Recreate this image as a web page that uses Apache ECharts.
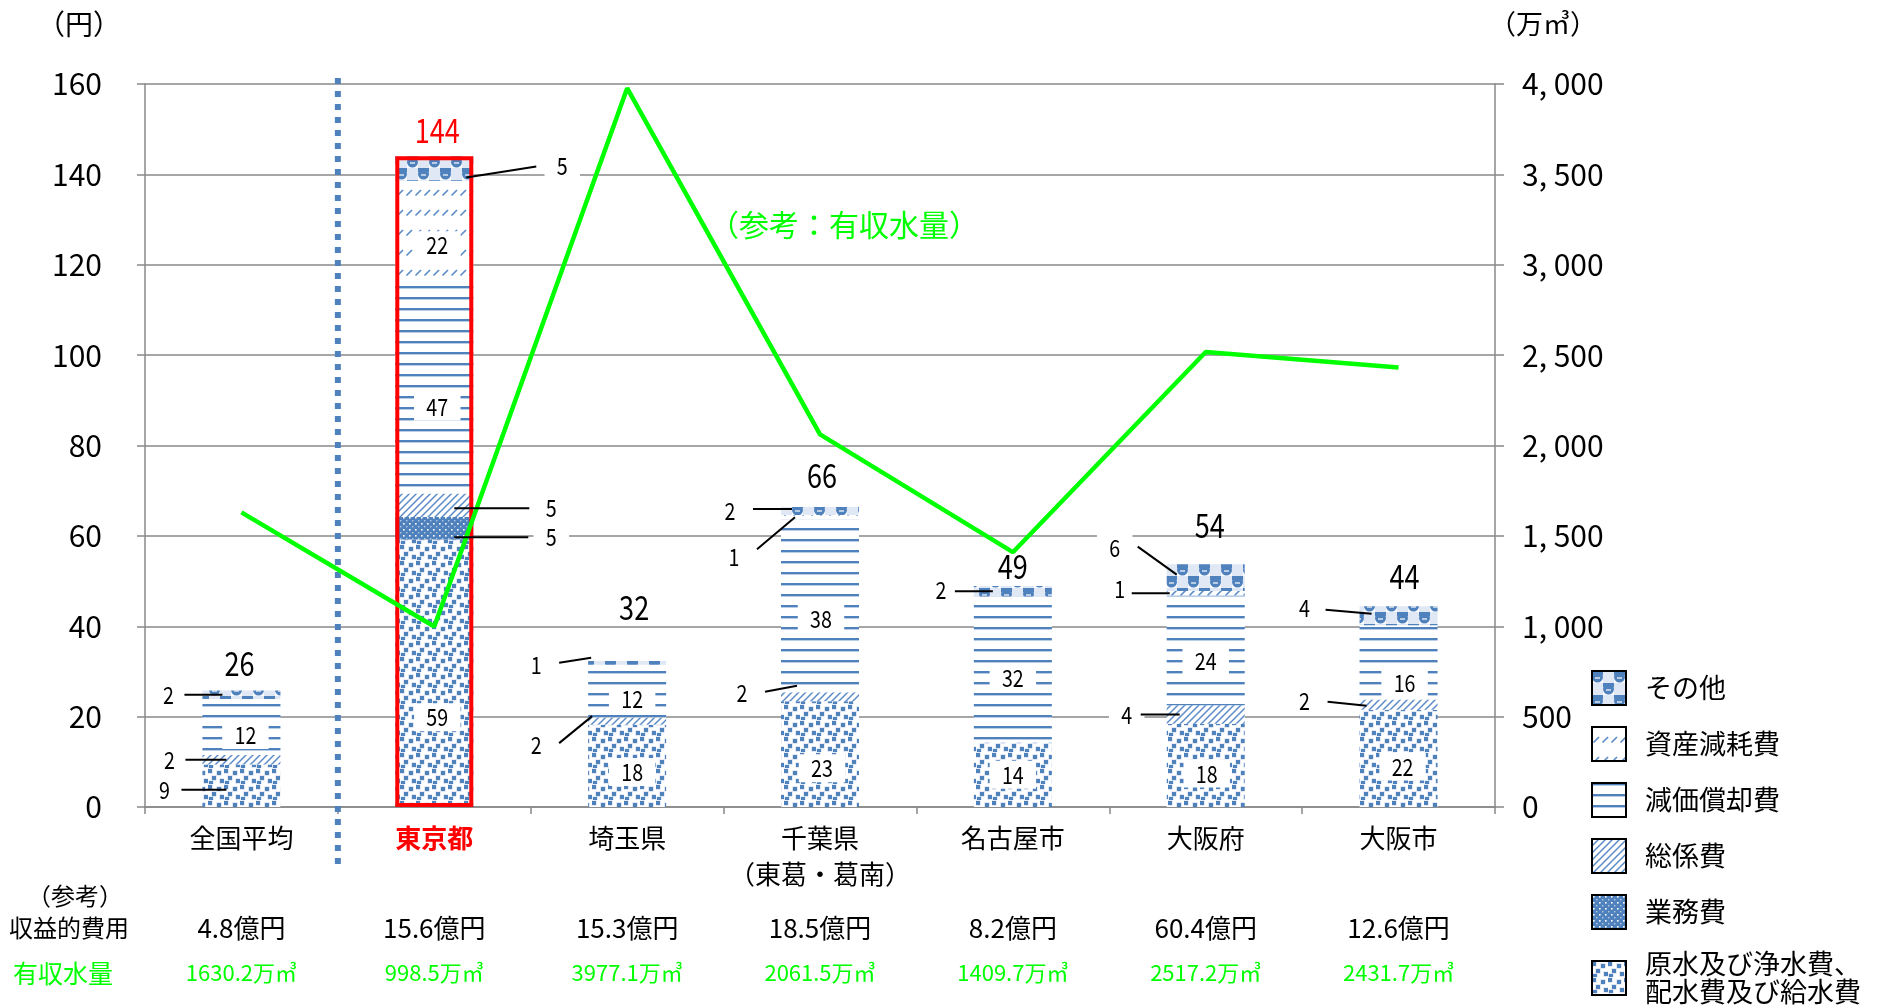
<!DOCTYPE html>
<html>
<head>
<meta charset="utf-8">
<script src="https://cdn.jsdelivr.net/npm/echarts@6/dist/echarts.min.js"></script>
<style>
  html, body { margin: 0; padding: 0; background: #fff; }
  #chart { width: 1883px; height: 1007px; }
</style>
</head>
<body>
<div id="chart"></div>
<script>
// ---- data ----
const categories = ['全国平均', '東京都', '埼玉県', '千葉県\n（東葛・葛南）', '名古屋市', '大阪府', '大阪市'];
const highlightIndex = 1;

// cost per m3 (円), stacked bottom to top
const rawWater     = [9.4, 59.2, 18.2, 23.4, 14.3, 18.4, 21.5]; // 原水及び浄水費、配水費及び給水費
const operations   = [0,   5.0,  0,    0,    0,    0,    0];    // 業務費
const generalAdmin = [2.1, 5.2,  1.6,  2.0,  0,    4.1,  2.3];  // 総係費
const depreciation = [12.4, 47.3, 11.7, 38.2, 32.3, 24.3, 16.4]; // 減価償却費
const assetLoss    = [0,   21.9, 0,    1.0,  0,    1.0,  0];    // 資産減耗費
const other        = [1.9, 5.4,  0.8,  1.8,  2.3,  5.9,  4.2];  // その他

const costNames = ['原水及び浄水費、\n配水費及び給水費', '業務費', '総係費', '減価償却費', '資産減耗費', 'その他'];

// reference rows
const revenueCost = [4.8, 15.6, 15.3, 18.5, 8.2, 60.4, 12.6];                 // 億円
const billedVolume = [1630.2, 998.5, 3977.1, 2061.5, 1409.7, 2517.2, 2431.7]; // 万㎥

const leftTicks = { min: 0, max: 160, interval: 20 };
const rightTicks = { min: 0, max: 4000, interval: 500 };

// ---- styling ----
const BLUE = '#4f81bd';
const GREEN = '#00ff00';
const AXIS_GREY = '#888888';
const JP_FONT = "'Noto Sans CJK JP','Noto Sans',sans-serif";
const NARROW = 0.82; // horizontal squeeze for the value labels

function tile(w, h, paint) {
  const cv = document.createElement('canvas');
  cv.width = w; cv.height = h;
  const g = cv.getContext('2d');
  g.fillStyle = '#ffffff';
  g.fillRect(0, 0, w, h);
  paint(g, w, h);
  return { image: cv, repeat: 'repeat' };
}

const patterns = [
  // confetti squares
  tile(16, 16, g => {
    g.fillStyle = '#c3d4ea';
    [[0, 1], [9, 3], [4, 8], [12, 11], [1, 13]].forEach(([x, y]) => g.fillRect(x - 0.5, y - 0.5, 5, 5));
    g.fillStyle = BLUE;
    [[0, 1], [9, 3], [4, 8], [12, 11], [1, 13]].forEach(([x, y]) => g.fillRect(x, y, 4, 4));
  }),
  // dotted grid on solid blue
  tile(6, 6, g => {
    g.fillStyle = '#4f81bd';
    g.fillRect(0, 0, 6, 6);
    g.fillStyle = '#ffffff';
    g.fillRect(1, 1, 1.6, 1.6);
    g.fillStyle = '#b4cae6';
    g.fillRect(4, 4, 1.4, 1.4);
  }),
  // wide upward diagonal
  tile(7, 7, g => {
    g.strokeStyle = '#5d8bc8';
    g.lineWidth = 1.5;
    g.beginPath();
    g.moveTo(-1, 8); g.lineTo(8, -1);
    g.moveTo(-1, 1); g.lineTo(1, -1);
    g.moveTo(6, 8); g.lineTo(8, 6);
    g.stroke();
  }),
  // horizontal lines
  tile(4, 11, g => {
    g.fillStyle = BLUE;
    g.fillRect(0, 0, 4, 2);
    g.fillStyle = '#b9cde8';
    g.fillRect(0, 2, 4, 1);
  }),
  // dashed upward diagonal
  tile(9, 20, g => {
    g.strokeStyle = '#5f8dc8';
    g.lineWidth = 1.7;
    g.beginPath();
    g.moveTo(1.5, 15.5); g.lineTo(7, 10);
    g.stroke();
  }),
  // checker with spheres
  tile(22, 24, g => {
    g.fillStyle = '#dfe8f4';
    g.fillRect(11, 0, 11, 12);
    g.fillRect(0, 12, 11, 12);
    g.fillStyle = BLUE;
    [[5.5, 6], [16.5, 18]].forEach(([x, y]) => {
      g.beginPath(); g.arc(x, y, 5.5, 0, Math.PI * 2); g.fill();
      g.fillRect(x - 5.5, y - 6, 11, 4);
    });
    g.strokeStyle = '#ffffff';
    g.lineWidth = 1.2;
    [[5.5, 6], [16.5, 18]].forEach(([x, y]) => {
      g.beginPath(); g.moveTo(x - 2.5, y + 1); g.lineTo(x + 2.5, y + 1); g.stroke();
    });
  })
];

// ---- derived ----
const stacks = [rawWater, operations, generalAdmin, depreciation, assetLoss, other];
const stackTotals = categories.map((_, i) => +stacks.reduce((s, arr) => s + arr[i], 0).toFixed(1));

// label placement (pixel offsets from the segment centre)
// d: inside label offset; a: leader start on bar, b: leader end, t: text centre
const segLabelLayout = {
  '0-0': { a: [-15, 4], b: [-60, 4], t: [-77, 4] },
  '2-0': { a: [-15, 0], b: [-56, 0], t: [-72, 0] },
  '3-0': { d: [4, 8] },
  '5-0': { a: [-19, 0], b: [-57, 0], t: [-73, 0] },
  '0-1': { d: [3, 44] },
  '1-1': { a: [20, 9], b: [94, 9], t: [117, 9] },
  '2-1': { a: [20, 3], b: [95, 3], t: [117, 3] },
  '3-1': { d: [3, 20] },
  '4-1': { d: [3, 15] },
  '5-1': { a: [32, 9], b: [102, -2], t: [128, -3] },
  '0-2': { d: [5, 6] },
  '2-2': { a: [-35, -5], b: [-68, 22], t: [-91, 24] },
  '3-2': { d: [5, 8] },
  '5-2': { a: [-36, -5], b: [-68, 0], t: [-91, 2] },
  '0-3': { d: [2, 14] },
  '2-3': { a: [-23, -11], b: [-55, -5], t: [-78, -4] },
  '3-3': { d: [1, 13] },
  '4-3': { a: [-25, 0], b: [-63, 32], t: [-86, 40] },
  '5-3': { a: [-28, -2], b: [-67, -2], t: [-90, 0] },
  '0-4': { d: [0, 0] },
  '3-4': { d: [0, 8] },
  '5-4': { a: [-20, 0], b: [-58, 0], t: [-72, -1] },
  '0-5': { d: [1, 8] },
  '2-5': { a: [-26, 0], b: [-65, 0], t: [-79, 0] },
  '3-5': { d: [0, 10] },
  '4-5': { a: [-36, 0], b: [-74, 0], t: [-86, -4] },
  '5-5': { a: [-29, -3], b: [-68, -31], t: [-91, -30] },
  '0-6': { d: [4, 8] },
  '2-6': { a: [-32, 1], b: [-71, -3], t: [-94, -4] },
  '3-6': { d: [6, 20] },
  '5-6': { a: [-27, -2], b: [-73, -6], t: [-94, -8] }
};
// total label offsets: [dx, lift above bar top]
const totalLayout = [[-2, 27], [3, 26], [7, 54], [2, 32], [0, 20], [4, 39], [6, 30]];

const labelItems = [];
categories.forEach((_, c) => {
  let base = 0;
  stacks.forEach((arr, s) => {
    const v = arr[c];
    const layout = segLabelLayout[s + '-' + c];
    if (v > 0 && layout) {
      labelItems.push({ cat: c, center: base + v / 2, text: String(Math.round(v)), layout, kind: 'seg' });
    }
    base += v;
  });
  labelItems.push({
    cat: c, center: stackTotals[c], text: String(Math.round(stackTotals[c])),
    layout: { d: [totalLayout[c][0], -totalLayout[c][1]] }, kind: 'total'
  });
});

function valueText(x, y, text, size, color, boxed) {
  const style = {
    text, fill: color, fontSize: size, fontFamily: JP_FONT,
    align: 'center', verticalAlign: 'middle'
  };
  if (boxed) {
    style.backgroundColor = '#ffffff';
    style.padding = [2, 15];
  }
  return { type: 'text', x, y, scaleX: NARROW, style };
}

function renderLabel(params, api) {
  const it = labelItems[params.dataIndex];
  const p = api.coord([api.value(0), api.value(1)]);
  const L = it.layout;
  if (it.kind === 'total') {
    return valueText(p[0] + L.d[0], p[1] + L.d[1], it.text, 33,
      it.cat === highlightIndex ? '#ff0000' : '#000000', false);
  }
  if (L.d) {
    return valueText(p[0] + L.d[0], p[1] + L.d[1], it.text, 24, '#000000', true);
  }
  return {
    type: 'group',
    children: [
      valueText(p[0] + L.t[0], p[1] + L.t[1], it.text, 24, '#000000', true),
      {
        type: 'line',
        shape: { x1: p[0] + L.a[0], y1: p[1] + L.a[1], x2: p[0] + L.b[0], y2: p[1] + L.b[1] },
        style: { stroke: '#000000', lineWidth: 2 }
      }
    ]
  };
}

function renderSeparator(params, api) {
  const a = api.coord([0, leftTicks.max]);
  const b = api.coord([1, 0]);
  const x = (a[0] + b[0]) / 2;
  return {
    type: 'line',
    shape: { x1: x, y1: a[1] - 6, x2: x, y2: b[1] + 60 },
    style: { stroke: BLUE, lineWidth: 6, lineDash: [6, 7] }
  };
}

const fmtThousands = v => v >= 1000 ? Math.floor(v / 1000) + ', ' + String(v % 1000).padStart(3, '0') : String(v);

const chart = echarts.init(document.getElementById('chart'), null, { renderer: 'canvas' });

const barSeries = stacks.map((arr, s) => ({
  name: costNames[s],
  type: 'bar',
  stack: 'cost',
  data: arr,
  barWidth: 78,
  barGap: '-100%',
  itemStyle: { color: patterns[s] },
  emphasis: { disabled: true },
  z: 2
}));

chart.setOption({
  animation: false,
  backgroundColor: '#ffffff',
  textStyle: { fontFamily: JP_FONT },
  grid: { left: 145, right: 388, top: 84, bottom: 200, containLabel: false },
  legend: {
    orient: 'vertical',
    left: 1591,
    top: 670,
    width: 290,
    height: 420,
    padding: 0,
    icon: 'rect',
    itemWidth: 34,
    itemHeight: 34,
    itemGap: 20,
    selectedMode: false,
    data: costNames.slice().reverse(),
    itemStyle: { borderColor: '#000000', borderWidth: 2 },
    textStyle: { fontSize: 27, lineHeight: 28, color: '#000000', fontFamily: JP_FONT, padding: [0, 0, 0, 14] }
  },
  xAxis: [
    {
      type: 'category',
      data: categories.map((c, i) => i === highlightIndex
        ? { value: c, textStyle: { color: '#ff0000', fontWeight: 'bold' } } : c),
      axisLine: { lineStyle: { color: AXIS_GREY, width: 1.5 } },
      axisTick: { show: true, length: 7, lineStyle: { color: AXIS_GREY, width: 1.5 } },
      axisLabel: { fontSize: 26, lineHeight: 36, color: '#000000', margin: 13, fontFamily: JP_FONT, interval: 0 }
    },
    {
      type: 'category',
      data: categories,
      position: 'bottom',
      axisLine: { show: false }, axisTick: { show: false }, splitLine: { show: false },
      axisLabel: {
        interval: 0, margin: 106, fontSize: 26, lineHeight: 30, color: '#000000', fontFamily: JP_FONT,
        formatter: (v, i) => revenueCost[i] + '億円'
      }
    },
    {
      type: 'category',
      data: categories,
      position: 'bottom',
      axisLine: { show: false }, axisTick: { show: false }, splitLine: { show: false },
      axisLabel: {
        interval: 0, margin: 151, fontSize: 22, lineHeight: 30, color: GREEN, fontFamily: JP_FONT,
        formatter: (v, i) => billedVolume[i].toFixed(1) + '万㎥'
      }
    }
  ],
  yAxis: [
    {
      type: 'value',
      min: leftTicks.min, max: leftTicks.max, interval: leftTicks.interval,
      position: 'left',
      name: '（円）',
      nameLocation: 'end',
      nameGap: 60,
      nameTextStyle: { fontSize: 28, color: '#000000', fontFamily: JP_FONT, align: 'center', verticalAlign: 'middle', padding: [0, 132, 0, 0] },
      axisLine: { show: true, lineStyle: { color: AXIS_GREY, width: 1.5 } },
      axisTick: { show: true, length: 8, lineStyle: { color: AXIS_GREY, width: 1.5 } },
      splitLine: { show: true, lineStyle: { color: AXIS_GREY, width: 1.5 } },
      axisLabel: { fontSize: 30, color: '#000000', fontFamily: JP_FONT, margin: 43 }
    },
    {
      type: 'value',
      min: rightTicks.min, max: rightTicks.max, interval: rightTicks.interval,
      position: 'right',
      name: '（万㎥）',
      nameLocation: 'end',
      nameGap: 60,
      nameTextStyle: { fontSize: 27, color: '#000000', fontFamily: JP_FONT, align: 'center', verticalAlign: 'middle', padding: [0, 0, 0, 96] },
      axisLine: { show: true, lineStyle: { color: AXIS_GREY, width: 1.5 } },
      axisTick: { show: true, length: 9, lineStyle: { color: AXIS_GREY, width: 1.5 } },
      splitLine: { show: false },
      axisLabel: { fontSize: 30, color: '#000000', fontFamily: JP_FONT, margin: 27, formatter: fmtThousands }
    }
  ],
  graphic: [
    { type: 'text', x: 75, y: 896, style: { text: '（参考）', fontSize: 24, fontFamily: JP_FONT, fill: '#000000', align: 'center', verticalAlign: 'middle' } },
    { type: 'text', x: 69, y: 928, style: { text: '収益的費用', fontSize: 24, fontFamily: JP_FONT, fill: '#000000', align: 'center', verticalAlign: 'middle' } },
    { type: 'text', x: 63, y: 973, style: { text: '有収水量', fontSize: 25, fontFamily: JP_FONT, fill: GREEN, align: 'center', verticalAlign: 'middle' } },
    { type: 'text', x: 844, y: 225, style: { text: '（参考：有収水量）', fontSize: 30, fontFamily: JP_FONT, fill: GREEN, align: 'center', verticalAlign: 'middle' } }
  ],
  series: [
    ...barSeries,
    {
      name: 'outline',
      type: 'bar',
      data: categories.map((_, i) => i === highlightIndex ? stackTotals[i] : '-'),
      barWidth: 78,
      barGap: '-100%',
      itemStyle: { color: 'rgba(0,0,0,0)', borderColor: '#ff0000', borderWidth: 4 },
      emphasis: { disabled: true },
      silent: true,
      z: 3
    },
    {
      name: '有収水量',
      type: 'line',
      yAxisIndex: 1,
      data: billedVolume,
      symbol: 'none',
      lineStyle: { color: GREEN, width: 4.5 },
      itemStyle: { color: GREEN },
      emphasis: { disabled: true },
      z: 5
    },
    {
      name: 'separator',
      type: 'custom',
      data: [[0, 0]],
      renderItem: renderSeparator,
      silent: true,
      z: 4
    },
    {
      name: 'labels',
      type: 'custom',
      data: labelItems.map(it => [it.cat, it.center]),
      renderItem: renderLabel,
      silent: true,
      z: 10
    }
  ]
});
</script>
</body>
</html>
